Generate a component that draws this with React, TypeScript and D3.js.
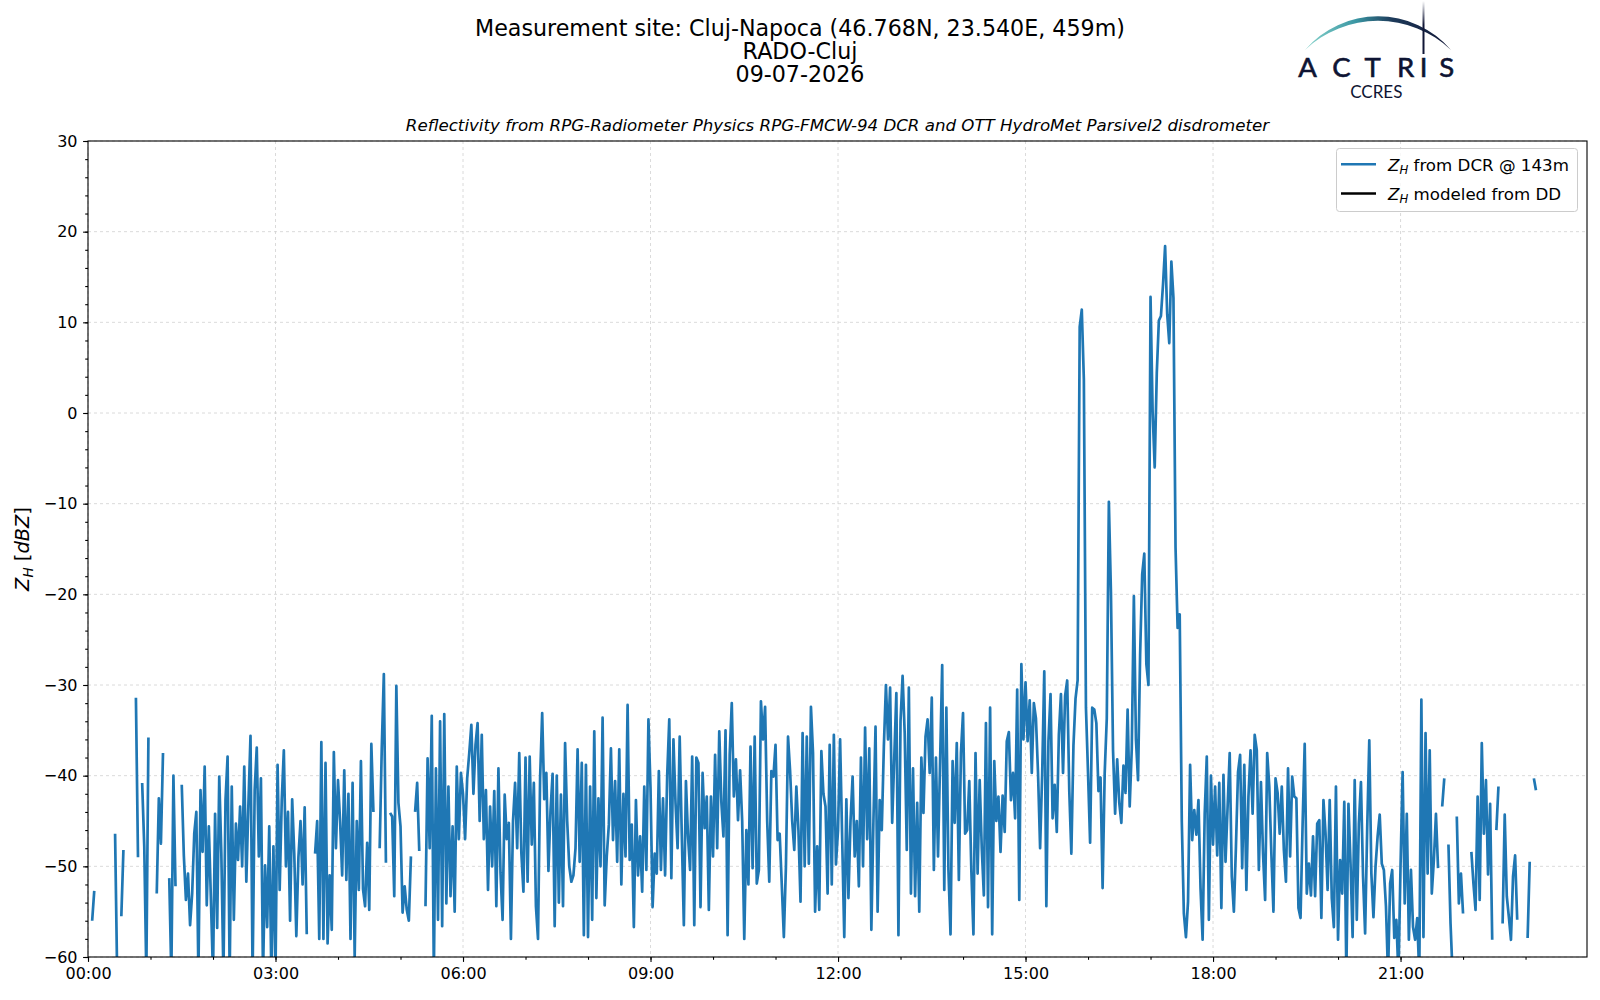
import * as d3 from "d3";
import { useEffect, useRef } from "react";

// Z_H from DCR, one value every 2 minutes, one array per hour (null = no data)
const zh00 = [null, null, -56, -52.7, null, null, null, null, null, null, null, null, null, -46.4, -62, null, -55.5, -48.2, null, null, null, null, null, -31.4, -49, null, -40.8, -47.8, -62, -35.8];
const zh01 = [null, null, null, -53, -42.5, -47.5, -37.5, null, null, -51.3, -62, -40, -52.2, null, null, -41, -48.8, -53.7, -50.8, -56.5, -53, -46.4, -44, -62, -41.6, -48.4, -39, -54.3, -45.6, -53.7];
const zh02 = [-62, -44.2, -56.8, -40.1, -48.6, -62, -42.7, -37.9, -62, -41.2, -55.9, -45.3, -49.3, -43.4, -50, -39, -51.7, -43.1, -35.6, -62, -41.6, -36.9, -48.9, -40.3, -62, -49.9, -56.7, -45.6, -62, -47.8];
const zh03 = [-62, -38.8, -52.6, -42.7, -37.2, -50, -44, -56, -42.6, -48.6, -57.7, -49, -45, -52, -43.5, -57.5, null, null, null, -48.6, -45, -58, -36.3, -58, -38.6, -58.5, -51, -57, -37.4, -48];
const zh04 = [-40.5, -45, -51, -39.4, -51.5, -42, -58, -40.8, -60, -45, -52.6, -38.4, -52.5, -54.4, -47.4, -54.8, -36.5, -44, null, null, -48, -37, -28.8, -49.6, null, -44.1, -44.5, -53.3, -30.1, -43];
const zh05 = [-45.6, -55.1, -52.2, -54.8, -56, -48.9, null, -44, -40.8, -48.3, null, null, -54.4, -38.1, -48, -33.4, -62, -39.2, -55.9, -34, -56.6, -33.2, -54.1, -41.2, -53.3, -45.6, -55, -39, -47, -39.7];
const zh06 = [-42, -47, -40.3, -37.5, -34.4, -42, -36.6, -34.2, -45, -35.5, -47, -41.6, -52.6, -43.4, -50, -41.7, -54.4, -39.2, -50.7, -55.9, -42.1, -47, -45.2, -58, -45, -40.8, -48, -37.5, -48.5, -52.8];
const zh07 = [-38, -51.7, -37.9, -47.6, -40.8, -54.4, -58, -40.3, -33.1, -42.6, -39.7, -50.5, -43.9, -39.8, -56.6, -40, -54, -42.1, -54.4, -36.4, -45, -50, -51.7, -51, -48, -37.1, -49.5, -38.6, -57.6, -38.8];
const zh08 = [-57.8, -41.2, -55.9, -35.1, -53.5, -42.5, -50, -33.6, -54.3, -48.9, -45.4, -37, -47.1, -40.6, -49.5, -37.1, -52, -42, -48.9, -32.2, -49.3, -45.4, -56.7, -42.7, -51, -46.7, -52.8, -41.2, -50.4, -33.8];
const zh09 = [-41.4, -54.5, -48.6, -50.8, -39.5, -50.4, -42.5, -51, -40, -33.8, -51.3, -36, -43, -48, -35.7, -46.4, -56.5, -40.6, -46.7, -50.4, -37.9, -56.5, -38, -38.6, -54.5, -39.7, -45.8, -42.3, -54.8, -42.3];
const zh10 = [-48.9, -37.7, -48, -35.1, -42.9, -46.7, -35, -57.6, -37.7, -32, -42.3, -38.2, -44.9, -39.4, -45, -58, -46, -52, -36.8, -50.2, -35.7, -51.9, -50.4, -31.8, -36, -32.4, -45, -51.7, -39.5, -40.1];
const zh11 = [-36.6, -47.1, -46.4, -52, -57.8, -50, -35.7, -39.5, -45, -48.2, -41.2, -46, -53.9, -35.3, -50, -35.7, -49.7, -32.4, -37.5, -55, -47.8, -54.8, -37.3, -42, -43.4, -53, -36.6, -52, -35.5, -49.8];
const zh12 = [-46, -36, -47, -57.8, -42.6, -53.5, -45, -40.1, -48.9, -45, -52.2, -38, -50, -34.7, -47, -37, -57, -45, -34.6, -55, -42.7, -46, -36.8, -30, -36, -30.3, -45.2, -38, -30.9, -57.6];
const zh13 = [-34, -29, -35.3, -48.2, -30.3, -53, -39.2, -53.3, -43, -55, -38, -44.1, -35.7, -33.8, -39.7, -31.4, -50.4, -38, -48.9, -38.4, -27.8, -52.6, -32.5, -50.4, -57.5, -38.4, -45.2, -36.4, -51.5, -37.5];
const zh14 = [-33.1, -46.4, -46, -40.6, -50.5, -57.5, -37.5, -50.8, -40.5, -48, -53.2, -34.2, -54.5, -32.5, -57.5, -38.4, -45, -42.3, -48.4, -42.2, -46.2, -36.2, -35.2, -42.7, -39.7, -44.7, -30.5, -53.7, -27.7, -36];
const zh15 = [-29.7, -36.2, -31.7, -39.7, -32, -33.7, -39.7, -48, -39.7, -28.5, -54.4, -36.2, -31, -44.7, -41, -46.2, -35.5, -31, -39.7, -31.2, -29.5, -41.7, -48.6, -36.7, -31.5, -29.5, 9.5, 11.4, 3.7, -32.5];
const zh16 = [-39.7, -47.4, -32.5, -32.7, -34.2, -41.7, -40.2, -52.4, -39.7, -33.7, -9.8, -19.8, -37.2, -44.2, -38.2, -43, -45.2, -38.9, -41.9, -32.7, -43.4, -37, -20.2, -36, -40.5, -26.7, -17.8, -15.5, -27.7, -30];
const zh17 = [12.8, 0.2, -6, 4.4, 10.2, 10.7, 14.2, 18.4, 10.9, 7.7, 16.7, 12.7, -14.8, -23.7, -22.2, -45, -55.2, -57.8, -53.9, -38.8, -47.1, -43.8, -46.5, -42.7, -52.4, -58.1, -44.2, -37.9, -55.9, -40];
const zh18 = [-47.6, -41.2, -48.8, -40.8, -54.6, -39.9, -49.5, -43.4, -37.5, -51.1, -55, -47.8, -39.6, -37.7, -50.2, -38.8, -52.6, -42.3, -37.2, -44.2, -35.5, -37.2, -50.4, -40.7, -48.6, -53.7, -37.5, -41.2, -48.6, -55];
const zh19 = [-40.3, -41.9, -46.4, -41.2, -48.2, -51.7, -39.2, -48.9, -40.1, -42.3, -42.5, -54.6, -55.7, -45.3, -36.5, -53, -49.7, -53.2, -46.7, -53.3, -45.3, -44.9, -55.7, -42.7, -46.4, -52.6, -42.7, -53.5, -56.7, -41.2];
const zh20 = [-58.1, -49.3, -53, -42.9, -62, -43.1, -49.7, -57.8, -40.5, -55.9, -45.3, -40.7, -51.1, -57.4, -45.8, -36.1, -50.8, -55.6, -50, -46.7, -44.3, -49.7, -50.4, -54.4, -62, -51.9, -50.4, -57.9, -55.9, -62];
const zh21 = [-50, -39.6, -54.1, -44.2, -58.1, -50.4, -56.7, -58.1, -55.7, -62, -31.6, -57.8, -35.3, -50.8, -37.2, -53, -49.3, -44.2, -50.2, null, -43.4, -40.3, null, -47.6, -56.3, -62, null, -44.5, -54.1, -50.8];
const zh22 = [-55.2, null, null, null, -48.4, -51.9, -54.8, -42.3, -53.7, -36.4, -46.4, -40.5, -50.9, -43.1, -58.1, null, -46, -41.2, null, -56.3, -44.3, -53.3, -55.6, -58.1, -51.1, -48.8, -55.9, null, null, null];
const zh23 = [null, -57.9, -49.5, null, -40.3, -41.6, null, null, null, null, null, null, null, null, null, null, null, null, null, null, null, null, null, null, null, null, null, null, null, null];

// Z_H modeled from DD: no values on this day
const zhDD: (number | null)[] = [];

const hourBlocks = [zh00, zh01, zh02, zh03, zh04, zh05, zh06, zh07, zh08, zh09, zh10, zh11,
    zh12, zh13, zh14, zh15, zh16, zh17, zh18, zh19, zh20, zh21, zh22, zh23];
const stepMin = 2;

const yTicks = [-60, -50, -40, -30, -20, -10, 0, 10, 20, 30];
const xTickLabels = ["00:00", "03:00", "06:00", "09:00", "12:00", "15:00", "18:00", "21:00"];
const titleLines = ["Measurement site: Cluj-Napoca (46.768N, 23.540E, 459m)", "RADO-Cluj", "09-07-2026"];
const subTitle = "Reflectivity from RPG-Radiometer Physics RPG-FMCW-94 DCR and OTT HydroMet Parsivel2 disdrometer";
const legendItems = [
    { label: " from DCR @ 143m", color: "#1f77b4" },
    { label: " modeled from DD", color: "#000000" },
];

interface Pt { t: number; v: number | null; }

const W = 1600;
const H = 1000;
const plot = { left: 88, right: 1587, top: 141, bottom: 957 };
const FONT = "DejaVu Sans, sans-serif";

export default function App() {
    const svgRef = useRef<SVGSVGElement>(null);

    useEffect(() => {
        document.body.style.margin = "0";
        const svg = d3.select(svgRef.current);
        svg.selectAll("*").remove();

        const data: Pt[] = hourBlocks.flatMap((arr, h) =>
            arr.map((v, i) => ({ t: h * 60 + i * stepMin, v })));

        const x = d3.scaleLinear().domain([0, 1439]).range([plot.left, plot.right]);
        const y = d3.scaleLinear().domain([-60, 30]).range([plot.bottom, plot.top]);

        const defs = svg.append("defs");
        defs.append("clipPath").attr("id", "plotclip")
            .append("rect")
            .attr("x", plot.left).attr("y", plot.top)
            .attr("width", plot.right - plot.left).attr("height", plot.bottom - plot.top);

        // titles
        titleLines.forEach((s, i) => {
            svg.append("text")
                .attr("x", 800).attr("y", 35.5 + i * 23.4)
                .attr("text-anchor", "middle")
                .attr("font-family", FONT).attr("font-size", 22.2)
                .text(s);
        });
        svg.append("text")
            .attr("x", (plot.left + plot.right) / 2).attr("y", 131)
            .attr("text-anchor", "middle")
            .attr("font-family", FONT).attr("font-size", 16.67)
            .attr("font-style", "italic")
            .text(subTitle);

        // grid
        const grid = svg.append("g").attr("stroke", "#d0d0d0").attr("stroke-width", 0.8)
            .attr("stroke-dasharray", "3,3");
        yTicks.forEach(v => {
            grid.append("line").attr("x1", plot.left).attr("x2", plot.right)
                .attr("y1", y(v)).attr("y2", y(v));
        });
        xTickLabels.forEach((_, i) => {
            grid.append("line").attr("x1", x(i * 180)).attr("x2", x(i * 180))
                .attr("y1", plot.top).attr("y2", plot.bottom);
        });

        // data line
        const line = d3.line<Pt>()
            .defined(d => d.v !== null)
            .x(d => x(d.t))
            .y(d => y(d.v as number));

        svg.append("path")
            .datum(data)
            .attr("clip-path", "url(#plotclip)")
            .attr("d", line)
            .attr("fill", "none")
            .attr("stroke", "#1f77b4")
            .attr("stroke-width", 2.7)
            .attr("stroke-linejoin", "round");

        svg.append("path")
            .datum(zhDD.map((v, i) => ({ t: i * stepMin, v })))
            .attr("d", line)
            .attr("fill", "none")
            .attr("stroke", "#000");

        // axes
        const yAxis = svg.append("g").attr("transform", `translate(${plot.left},0)`)
            .call(d3.axisLeft(y).tickValues(yTicks).tickSize(4.9).tickPadding(5.6)
                .tickFormat(d3.format("d")));
        svg.append("g").attr("transform", `translate(${plot.left},0)`)
            .call(d3.axisLeft(y).tickValues(d3.range(-60, 31, 2)).tickSize(2.8).tickFormat(() => ""))
            .call(g => g.select(".domain").remove());

        const xAxis = svg.append("g").attr("transform", `translate(0,${plot.bottom})`)
            .call(d3.axisBottom(x).tickValues(xTickLabels.map((_, i) => i * 180))
                .tickSize(4.9).tickPadding(6)
                .tickFormat((_, i) => xTickLabels[i]));
        svg.append("g").attr("transform", `translate(0,${plot.bottom})`)
            .call(d3.axisBottom(x).tickValues(d3.range(0, 1440, 60)).tickSize(2.8).tickFormat(() => ""))
            .call(g => g.select(".domain").remove());

        [yAxis, xAxis].forEach(g => {
            g.select(".domain").remove();
            g.selectAll("text").attr("font-family", FONT).attr("font-size", 16).attr("fill", "#000");
        });
        svg.selectAll(".tick line").attr("stroke", "#000").attr("stroke-width", 1.1);

        svg.append("rect")
            .attr("x", plot.left).attr("y", plot.top)
            .attr("width", plot.right - plot.left).attr("height", plot.bottom - plot.top)
            .attr("fill", "none").attr("stroke", "#000").attr("stroke-width", 1.1);

        // y label
        const yl = svg.append("text")
            .attr("transform", `translate(29,${(plot.top + plot.bottom) / 2}) rotate(-90)`)
            .attr("text-anchor", "middle")
            .attr("font-family", FONT).attr("font-size", 19.4);
        yl.append("tspan").attr("font-style", "italic").text("Z");
        yl.append("tspan").attr("font-style", "italic").attr("font-size", 13.6).attr("dy", 4).text("H");
        yl.append("tspan").attr("dy", -4).text(" [");
        yl.append("tspan").attr("font-style", "italic").text("dBZ");
        yl.append("tspan").text("]");

        // legend
        const lg = svg.append("g");
        lg.append("rect")
            .attr("x", 1336.5).attr("y", 148.5).attr("width", 241).attr("height", 63)
            .attr("rx", 3).attr("fill", "#fff").attr("fill-opacity", 0.8)
            .attr("stroke", "#cccccc").attr("stroke-width", 1);
        legendItems.forEach((it, i) => {
            const cy = 164.3 + i * 29.2;
            lg.append("line").attr("x1", 1341).attr("x2", 1376).attr("y1", cy).attr("y2", cy)
                .attr("stroke", it.color).attr("stroke-width", 2.4);
            const t = lg.append("text").attr("x", 1388).attr("y", cy + 6.3)
                .attr("font-family", FONT).attr("font-size", 16.67);
            t.append("tspan").attr("font-style", "italic").text("Z");
            t.append("tspan").attr("font-style", "italic").attr("font-size", 11.7).attr("dy", 3.5).text("H");
            t.append("tspan").attr("dy", -3.5).text(it.label);
        });

        // ACTRIS logo
        const arcGrad = defs.append("linearGradient").attr("id", "arcgrad")
            .attr("gradientUnits", "userSpaceOnUse")
            .attr("x1", 1306).attr("x2", 1450).attr("y1", 0).attr("y2", 0);
        arcGrad.append("stop").attr("offset", "0").attr("stop-color", "#86d3cb");
        arcGrad.append("stop").attr("offset", "0.35").attr("stop-color", "#3a96a3");
        arcGrad.append("stop").attr("offset", "0.6").attr("stop-color", "#1d3a5a");
        arcGrad.append("stop").attr("offset", "1").attr("stop-color", "#101636");
        const vGrad = defs.append("linearGradient").attr("id", "vgrad")
            .attr("x1", 0).attr("x2", 0).attr("y1", 0).attr("y2", 1);
        vGrad.append("stop").attr("offset", "0").attr("stop-color", "#101636").attr("stop-opacity", 0);
        vGrad.append("stop").attr("offset", "0.45").attr("stop-color", "#101636").attr("stop-opacity", 1);
        vGrad.append("stop").attr("offset", "1").attr("stop-color", "#101636");

        svg.append("path")
            .attr("d", "M1305,50 A96,96 0 0 1 1451,50 A106,106 0 0 0 1305,50 Z")
            .attr("fill", "url(#arcgrad)");
        svg.append("rect").attr("x", 1422.5).attr("y", 1).attr("width", 2).attr("height", 53)
            .attr("fill", "url(#vgrad)");

        const letters = [["A", 1307.5], ["C", 1341.5], ["T", 1372.5], ["R", 1405.5], ["I", 1423.7], ["S", 1446.7]];
        letters.forEach(([ch, cx]) => {
            svg.append("text").attr("x", cx as number).attr("y", 77.3)
                .attr("text-anchor", "middle")
                .attr("font-family", "Lato, sans-serif").attr("font-size", 27.5)
                .attr("fill", "#0e1433").attr("stroke", "#0e1433").attr("stroke-width", 0.6)
                .text(ch as string);
        });
        svg.append("text").attr("x", 1376.3).attr("y", 98.3)
            .attr("text-anchor", "middle")
            .attr("font-family", "Lato, sans-serif").attr("font-size", 17)
            .attr("fill", "#0e1433").text("CCRES");
    }, []);

    return (
        <svg ref={svgRef} width={W} height={H} style={{ display: "block", background: "#fff" }}>
        </svg>
    );
}
